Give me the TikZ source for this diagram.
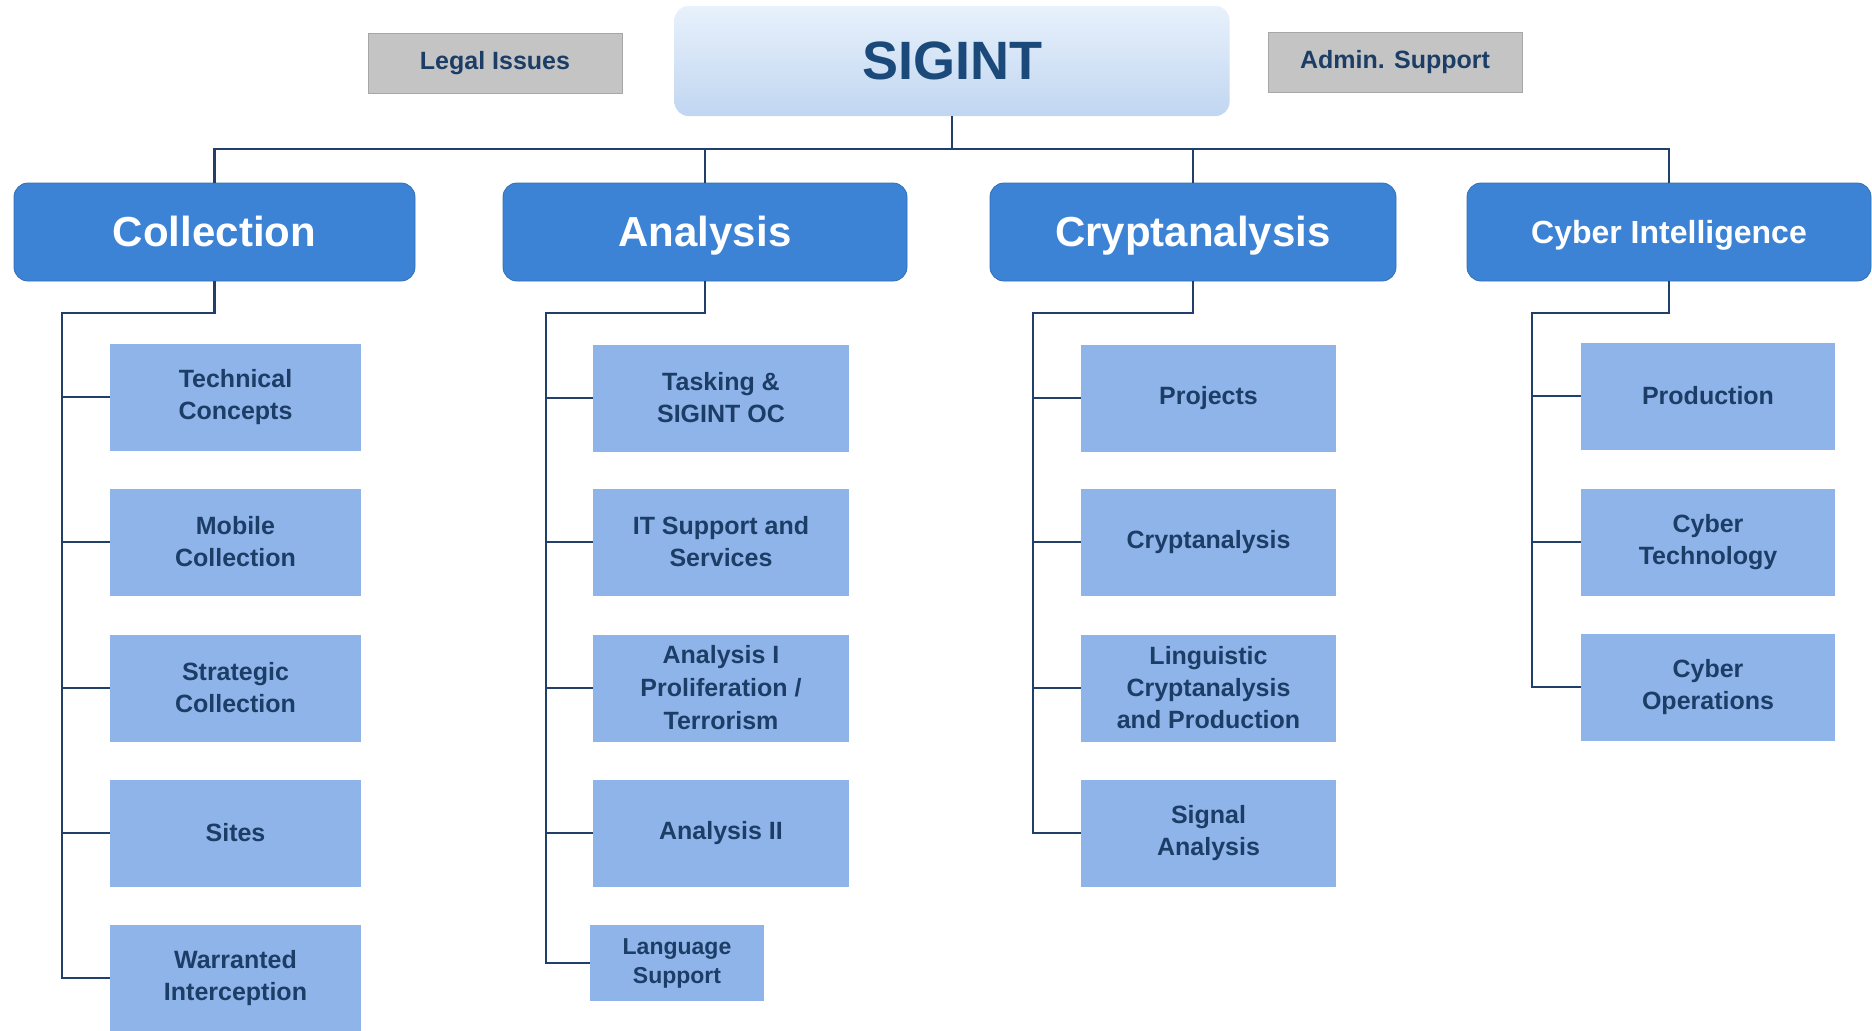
\documentclass[tikz,border=0pt]{standalone}
\usepackage{fontspec}
\setmainfont{Liberation Sans}
\definecolor{navy}{HTML}{1C3D66}
\definecolor{linec}{HTML}{213F6B}
\definecolor{deptc}{HTML}{3C83D6}
\definecolor{subf}{HTML}{8EB4EA}
\definecolor{greyf}{HTML}{C4C4C4}
\definecolor{sigtop}{HTML}{E8F1FC}
\definecolor{sigbot}{HTML}{C0D6F1}
\definecolor{sigtext}{HTML}{1B4A7A}
\tikzset{
  conn/.style={draw=linec, line width=2.6pt},
  sigbox/.style={rounded corners=14pt, top color=sigtop, bottom color=sigbot, draw=none,
    text=sigtext, font={\fontsize{54}{60}\selectfont\bfseries}, inner sep=0pt},
  greybox/.style={fill=greyf, draw=greyf!85!black, line width=0.8pt, text=navy,
    font={\fontsize{25}{30}\selectfont\bfseries}, inner sep=0pt},
  deptbox/.style={rounded corners=14pt, fill=deptc, draw=deptc!85!black, line width=0.8pt,
    text=white, font={\fontsize{42}{48}\selectfont\bfseries}, inner sep=0pt,
    minimum height=98pt, text height=30pt, text depth=2pt},
  subbox/.style={fill=subf, draw=none, text=navy, align=center,
    font={\fontsize{25}{32}\selectfont\bfseries}, inner sep=0pt,
    minimum height=107pt},
}
\begin{document}
\begin{tikzpicture}[x=1pt, y=-1pt]
\useasboundingbox (0,0) rectangle (1872,1031);
\fill[white] (0,0) rectangle (1872,1031);

% top level
\node[sigbox, minimum width=555pt, minimum height=110pt] (sig) at (952,61) {SIGINT};
\node[greybox, minimum width=254pt, minimum height=60pt] (legal) at (495,63) {Legal Issues};
\node[greybox, minimum width=254pt, minimum height=60pt] (admin) at (1395,62.5) {Admin. Support};

% departments
\node[deptbox, minimum width=401pt] (coll) at (214.5,232) {Collection};
\node[deptbox, minimum width=404pt] (ana) at (705,232) {Analysis};
\node[deptbox, minimum width=406pt] (cry) at (1193,232) {Cryptanalysis};
\node[deptbox, minimum width=404pt, font={\fontsize{32}{38}\selectfont\bfseries}, text height=23pt, text depth=1pt] (cyb) at (1669,232) {Cyber Intelligence};

% trunk
\coordinate (tr) at (952,149);
\draw[conn] (sig.south) -- (tr);
\draw[conn] (coll.north) |- (tr) -| (cyb.north);
\draw[conn] (ana.north) -- (ana.north |- tr);
\draw[conn] (cry.north) -- (cry.north |- tr);

% Collection
\node[subbox, minimum width=251pt] (tc) at (235.5,397) {Technical\\Concepts};
\node[subbox, minimum width=251pt] (mc) at (235.5,542) {Mobile\\Collection};
\node[subbox, minimum width=251pt] (sc) at (235.5,688) {Strategic\\Collection};
\node[subbox, minimum width=251pt] (si) at (235.5,833) {Sites};
\node[subbox, minimum width=251pt] (wi) at (235.5,978) {Warranted\\Interception};
\coordinate (cs) at (62,313);
\draw[conn] (coll.south) |- (cs) |- (wi.west);
\foreach \n in {tc,mc,sc,si} \draw[conn] (cs |- \n.west) -- (\n.west);

% Analysis
\node[subbox, minimum width=256pt] (ts) at (721,398) {Tasking \&\\SIGINT OC};
\node[subbox, minimum width=256pt] (it) at (721,542) {IT Support and\\Services};
\node[subbox, minimum width=256pt, font={\fontsize{25}{33}\selectfont\bfseries}] (a1) at (721,688) {Analysis I\\Proliferation /\\Terrorism};
\node[subbox, minimum width=256pt] (a2) at (721,833) {Analysis II};
\node[subbox, minimum width=174pt, minimum height=76pt, font={\fontsize{23}{29}\selectfont\bfseries}] (ls) at (677,963) {Language\\Support};
\coordinate (as) at (546,313);
\draw[conn] (ana.south) |- (as) |- (ls.west);
\foreach \n in {ts,it,a1,a2} \draw[conn] (as |- \n.west) -- (\n.west);

% Cryptanalysis
\node[subbox, minimum width=255pt] (pr) at (1208.5,398) {Projects};
\node[subbox, minimum width=255pt] (cr) at (1208.5,542) {Cryptanalysis};
\node[subbox, minimum width=255pt] (lc) at (1208.5,688) {Linguistic\\Cryptanalysis\\and Production};
\node[subbox, minimum width=255pt] (sa) at (1208.5,833) {Signal\\Analysis};
\coordinate (ks) at (1033,313);
\draw[conn] (cry.south) |- (ks) |- (sa.west);
\foreach \n in {pr,cr,lc} \draw[conn] (ks |- \n.west) -- (\n.west);

% Cyber Intelligence
\node[subbox, minimum width=254pt] (po) at (1708,396) {Production};
\node[subbox, minimum width=254pt] (ct) at (1708,542) {Cyber\\Technology};
\node[subbox, minimum width=254pt] (co) at (1708,687) {Cyber\\Operations};
\coordinate (ys) at (1532,313);
\draw[conn] (cyb.south) |- (ys) |- (co.west);
\foreach \n in {po,ct} \draw[conn] (ys |- \n.west) -- (\n.west);
\end{tikzpicture}
\end{document}
